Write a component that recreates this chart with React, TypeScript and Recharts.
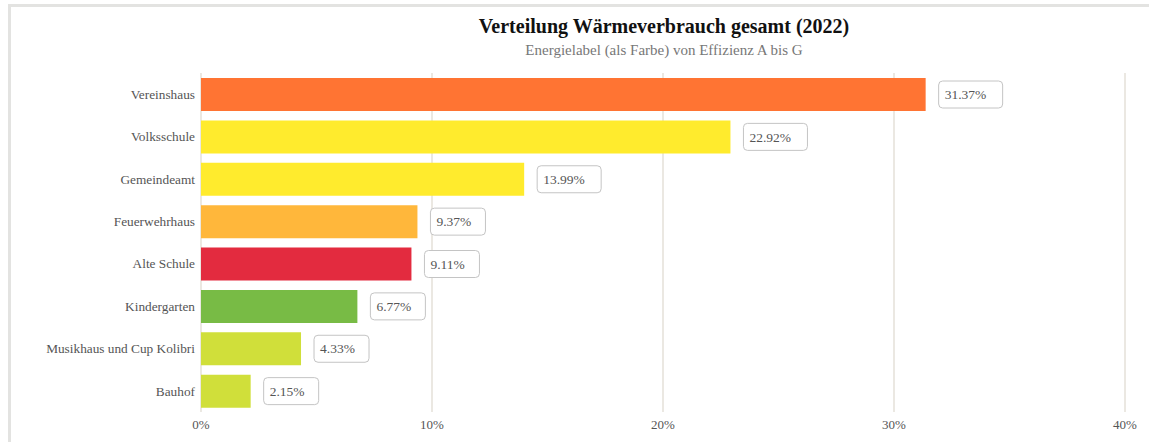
import { BarChart, Bar, XAxis, YAxis, CartesianGrid, Cell, LabelList } from "recharts";

const buildings = [
  "Vereinshaus",
  "Volksschule",
  "Gemeindeamt",
  "Feuerwehrhaus",
  "Alte Schule",
  "Kindergarten",
  "Musikhaus und Cup Kolibri",
  "Bauhof",
];
const shares = [31.37, 22.92, 13.99, 9.37, 9.11, 6.77, 4.33, 2.15];
// Energielabel-Farbe je Gebäude
const labelColors = ["#ff7433", "#ffeb2d", "#ffeb2d", "#ffb73b", "#e32b3f", "#78bb45", "#d0df3a", "#d0df3a"];
const xTicks = [0, 10, 20, 30, 40];

const data = buildings.map((name, i) => ({ name, value: shares[i], color: labelColors[i] }));

const FONT = "'Liberation Serif', 'Times New Roman', serif";

function ValueBox(props: any) {
  const { x, y, width, height, value } = props;
  const text = `${Number(value).toFixed(2)}%`;
  const bx = x + width + 13;
  const cy = y + height / 2;
  const w = text.length * 9 + 10;
  return (
    <g>
      <rect x={bx} y={cy - 13.5} width={w} height={27} rx={4} fill="#fff" stroke="#c4c4c4" strokeWidth={1} />
      <text x={bx + 6} y={cy} dy="0.35em" fontSize={13.5} fontFamily={FONT} fill="#555">
        {text}
      </text>
    </g>
  );
}

export default function App() {
  return (
    <div style={{ position: "fixed", left: 0, top: 0, width: 1149, height: 442, overflow: "hidden", background: "#fff" }}>
      <div style={{ position: "absolute", left: 0, top: 0 }}>
        <BarChart
          width={1149}
          height={442}
          data={data}
          layout="vertical"
          margin={{ top: 73, right: 24, left: 0, bottom: 0 }}
        >
          <CartesianGrid horizontal={false} stroke="#e5e1d8" strokeWidth={1.5} />
          <XAxis
            type="number"
            domain={[0, 40]}
            ticks={xTicks}
            tickFormatter={(v) => `${v}%`}
            axisLine={false}
            tickLine={false}
            tickSize={0}
            tickMargin={8}
            height={30}
            tick={{ fontSize: 13, fontFamily: FONT, fill: "#555" }}
          />
          <YAxis
            type="category"
            dataKey="name"
            width={201}
            axisLine={false}
            tickLine={false}
            tickSize={0}
            tickMargin={6}
            tick={{ fontSize: 13.3, fontFamily: FONT, fill: "#555" }}
          />
          <Bar dataKey="value" barSize={33} isAnimationActive={false}>
            {data.map((d) => (
              <Cell key={d.name} fill={d.color} />
            ))}
            <LabelList dataKey="value" content={<ValueBox />} />
          </Bar>
        </BarChart>
      </div>
      <div
        style={{
          position: "absolute",
          left: 8,
          top: 4,
          width: 1200,
          height: 500,
          borderLeft: "3px solid #e3e3e1",
          borderTop: "3px solid #e3e3e1",
          pointerEvents: "none",
        }}
      />
      <div
        style={{
          position: "absolute",
          left: 664,
          top: 15,
          transform: "translateX(-50%)",
          whiteSpace: "nowrap",
          fontFamily: FONT,
          fontWeight: "bold",
          fontSize: 20,
          color: "#111",
        }}
      >
        Verteilung Wärmeverbrauch gesamt (2022)
      </div>
      <div
        style={{
          position: "absolute",
          left: 664,
          top: 42,
          transform: "translateX(-50%)",
          whiteSpace: "nowrap",
          fontFamily: FONT,
          fontSize: 15,
          color: "#777",
        }}
      >
        Energielabel (als Farbe) von Effizienz A bis G
      </div>
    </div>
  );
}
